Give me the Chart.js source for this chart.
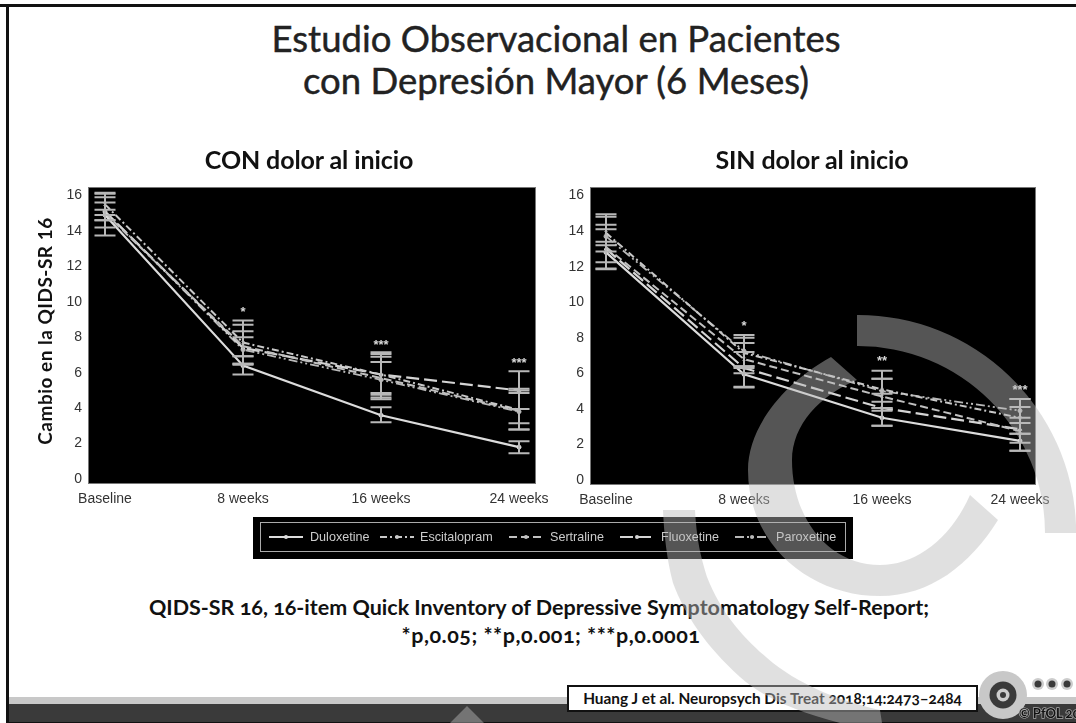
<!DOCTYPE html>
<html lang="es">
<head>
<meta charset="utf-8">
<script src="https://cdn.jsdelivr.net/npm/chart.js@4"></script>
<style>
html,body{margin:0;padding:0;background:#fff;}
#slide{position:relative;width:1076px;height:723px;overflow:hidden;background:#fff;font-family:Lato,sans-serif;color:#111;}
.abs{position:absolute;}
.t{position:absolute;white-space:nowrap;text-align:center;transform:translateX(-50%);}
canvas{position:absolute;filter:blur(.45px);}
#legend{position:absolute;left:253px;top:517px;width:600px;height:42px;background:#000;filter:blur(.4px);}
#legend .in{position:absolute;left:7px;top:5px;width:584px;height:28px;border:1px solid #aaa;}
#legend span{position:absolute;top:17px;font:12.6px "Liberation Sans",sans-serif;color:#ccc;line-height:14px;white-space:nowrap;}
#legend svg{position:absolute;top:0;left:0;}
.big{font-size:36.5px;line-height:42px;font-weight:400;color:#222;-webkit-text-stroke:.45px #222;}
.sub{font-size:25px;line-height:28px;font-weight:700;letter-spacing:-.1px;}
.note{font-size:21.5px;line-height:26px;font-weight:700;font-variant-numeric:oldstyle-nums;}
</style>
</head>
<body>
<div id="slide">
  <div class="abs" style="left:0;top:4px;width:1076px;height:3px;background:#111"></div>
  <div class="abs" style="left:6px;top:4px;width:3px;height:719px;background:#111"></div>
  <div class="abs" style="left:9px;top:697px;width:1067px;height:7px;background:#c8c8c8"></div>
  <div class="abs" style="left:9px;top:704px;width:1067px;height:18px;background:#3a3a3a"></div>
  <div class="abs" style="left:6px;top:722px;width:1070px;height:1px;background:#111"></div>

  <div class="t big" style="left:556px;top:17px">Estudio Observacional en Pacientes</div>
  <div class="t big" style="left:556px;top:59px">con Depresión Mayor (6 Meses)</div>

  <canvas id="con" width="510" height="335" style="left:50px;top:170px;width:510px;height:335px"></canvas>
  <canvas id="sin" width="524" height="336" style="left:552px;top:170px;width:524px;height:336px"></canvas>

  <div class="t sub" style="left:309px;top:145px">CON dolor al inicio</div>
  <div class="t sub" style="left:812px;top:145px">SIN dolor al inicio</div>
  <div class="abs" style="left:44px;top:331px;font-size:19px;letter-spacing:.5px;font-weight:700;white-space:nowrap;transform:translate(-50%,-50%) rotate(-90deg)">Cambio en la QIDS-SR 16</div>

  <div id="legend"><div class="in"></div></div>

  <div class="t note" style="left:539px;top:594px">QIDS-SR 16, 16-item Quick Inventory of Depressive Symptomatology Self-Report;</div>
  <div class="t note" style="left:551px;top:622px;letter-spacing:.5px">*p,0.05; **p,0.001; ***p,0.0001</div>

  <div class="abs" style="left:567px;top:685px;width:407px;height:23px;border:2px solid #111;background:#fff;text-align:center;font-size:15.4px;line-height:23px;font-weight:700;white-space:nowrap;font-variant-numeric:oldstyle-nums">Huang J et al. Neuropsych Dis Treat 2018;14:2473–2484</div>

  <svg class="abs" style="left:0;top:0" width="1076" height="723" viewBox="0 0 1076 723">
    <circle cx="1003" cy="695" r="24" fill="#c8c8c8"/>
    <circle cx="1003" cy="695" r="13.5" fill="#3a3a3a"/>
    <circle cx="1003" cy="695" r="6.5" fill="#ccc"/>
    <circle cx="1003" cy="695" r="3" fill="#3a3a3a"/>
    <g fill="#ccc"><circle cx="1038" cy="684" r="6"/><circle cx="1052" cy="684" r="6"/><circle cx="1067" cy="684" r="6"/></g>
    <g fill="#3a3a3a"><circle cx="1038" cy="684" r="3.5"/><circle cx="1052" cy="684" r="3.5"/><circle cx="1067" cy="684" r="3.5"/></g>
    <text x="1019" y="718" font-family="Lato" font-weight="700" font-size="13" fill="#111" stroke="#aaa" stroke-width="1.4" paint-order="stroke" style="font-variant-numeric:oldstyle-nums">© PfOL 2018</text>
    <g fill="rgb(187,187,187)" fill-opacity=".455">
      <path d="M857 315 A218 218 0 0 1 1076 525 L1076 533 L1045 533 A187 187 0 0 0 857 346 Z"/>
      <path d="M831 357 C780 385 748 430 748 470 C748 545 810 596 880 596 C930 596 970 565 998 520 L970 495 C950 540 915 565 880 565 C830 565 792 520 792 460 C792 425 820 395 857 380 Z"/>
      <path d="M663 510 L695 510 C697 545 702 560 707 577 C722 615 745 640 773 663 C805 688 845 702 880 710 L882 723 L840 723 C790 710 760 695 740 677 C705 645 685 615 673 583 C667 560 664 535 663 510 Z"/>
      <path d="M467 706 L484 723 L450 723 Z"/>
    </g>
  </svg>
</div>

<script>
const categories = ['Baseline', '8 weeks', '16 weeks', '24 weeks'];
const yTicks = [0, 2, 4, 6, 8, 10, 12, 14, 16];
const seriesNames = ['Duloxetine', 'Escitalopram', 'Sertraline', 'Fluoxetine', 'Paroxetine'];

// CON dolor al inicio
const conDuloxetine   = [14.9, 6.4, 3.6, 1.8];
const conDuloxetineLo = [14.6, 5.9, 3.2, 1.45];
const conDuloxetineHi = [15.2, 6.93, 4.05, 2.13];
const conEscitalopram   = [15.5, 7.7, 5.9, 3.9];
const conEscitalopramLo = [14.9, 6.5, 4.85, 2.8];
const conEscitalopramHi = [16.15, 8.95, 7.15, 5.0];
const conSertraline   = [15.0, 7.5, 5.7, 3.85];
const conSertralineLo = [14.2, 6.5, 4.6, 3.15];
const conSertralineHi = [15.9, 8.7, 6.9, 4.85];
const conFluoxetine   = [15.1, 7.4, 5.9, 5.0];
const conFluoxetineLo = [13.75, 6.45, 4.5, 3.95];
const conFluoxetineHi = [16.1, 8.34, 6.6, 6.08];
const conParoxetine   = [15.1, 7.3, 5.6, 3.8];
const conParoxetineLo = [14.6, 6.93, 4.75, 2.8];
const conParoxetineHi = [15.6, 8.0, 7.05, 5.1];
const conStars = ['', '*', '***', '***'];
const conStarY = [null, 9.45, 7.6, 6.6];

// SIN dolor al inicio
const sinDuloxetine   = [12.8, 5.95, 3.5, 2.2];
const sinDuloxetineLo = [11.9, 5.25, 3.05, 1.65];
const sinDuloxetineHi = [13.4, 6.4, 4.05, 2.6];
const sinEscitalopram   = [13.9, 7.15, 5.1, 3.5];
const sinEscitalopramLo = [12.85, 6.3, 4.05, 2.6];
const sinEscitalopramHi = [14.95, 8.15, 6.15, 4.55];
const sinSertraline   = [13.1, 6.8, 4.7, 2.75];
const sinSertralineLo = [12.25, 6.0, 3.9, 2.1];
const sinSertralineHi = [14.1, 7.7, 5.7, 3.5];
const sinFluoxetine   = [13.0, 6.3, 4.05, 2.85];
const sinFluoxetineLo = [11.85, 5.2, 3.05, 1.65];
const sinFluoxetineHi = [14.35, 7.2, 4.85, 4.1];
const sinParoxetine   = [13.7, 7.25, 5.0, 3.9];
const sinParoxetineLo = [13.2, 6.4, 4.4, 3.2];
const sinParoxetineHi = [14.8, 8.0, 5.7, 4.55];
const sinStars = ['', '*', '**', '***'];
const sinStarY = [null, 8.7, 6.7, 5.1];

const seriesStyle = [
  {color:'#dcdcdc', width:2.2, dash:[],          point:'circle'},
  {color:'#c8c8c8', width:2,   dash:[7,3,2,3],   point:'crossRot'},
  {color:'#c0c0c0', width:2,   dash:[8,4],       point:'crossRot'},
  {color:'#d4d4d4', width:2.2, dash:[13,5],      point:'triangle'},
  {color:'#b8b8b8', width:1.8, dash:[9,3,2,3,2,3], point:'circle'}
];

const pts = a => a.map((v, i) => ({x: i, y: v}));
function mk(i, m, lo, hi) {
  const s = seriesStyle[i];
  return {label: seriesNames[i], data: pts(m), low: lo, high: hi,
    borderColor: s.color, borderWidth: s.width, borderDash: s.dash,
    pointStyle: s.point, pointRadius: 2, pointBorderColor: s.color,
    pointBackgroundColor: s.color, pointBorderWidth: 1, tension: 0, fill: false};
}

const panelPlugin = {
  id: 'panel',
  beforeDraw(chart) {
    const a = chart.chartArea, c = chart.ctx;
    c.save();
    c.fillStyle = '#000';
    c.fillRect(a.left, a.top, a.right - a.left, a.bottom - a.top);
    c.strokeStyle = '#777'; c.lineWidth = 1;
    c.strokeRect(a.left + .5, a.top + .5, a.right - a.left - 1, a.bottom - a.top - 1);
    c.restore();
  },
  afterDatasetsDraw(chart, args, opts) {
    const c = chart.ctx, xs = chart.scales.x, ys = chart.scales.y;
    c.save();
    c.strokeStyle = '#b8b8b8'; c.lineWidth = 2; c.setLineDash([]);
    chart.data.datasets.forEach(d => {
      d.data.forEach((p, i) => {
        const x = Math.round(xs.getPixelForValue(p.x));
        const y0 = ys.getPixelForValue(d.low[i]), y1 = ys.getPixelForValue(d.high[i]);
        c.beginPath();
        c.moveTo(x, y0); c.lineTo(x, y1);
        c.moveTo(x - 10.5, y0); c.lineTo(x + 10.5, y0);
        c.moveTo(x - 10.5, y1); c.lineTo(x + 10.5, y1);
        c.stroke();
      });
    });
    c.fillStyle = '#d8d8d8';
    c.font = 'bold 13px "Liberation Sans"';
    c.textAlign = 'center'; c.textBaseline = 'middle';
    opts.stars.forEach((s, i) => {
      if (!s) return;
      c.fillText(s, xs.getPixelForValue(i), ys.getPixelForValue(opts.starY[i]) + 1);
    });
    c.restore();
  }
};

function build(id, datasets, stars, starY, pad, yWidth) {
  new Chart(document.getElementById(id), {
    type: 'line',
    data: {datasets},
    plugins: [panelPlugin],
    options: {
      responsive: false, animation: false,
      layout: {padding: pad},
      plugins: {legend: {display: false}, tooltip: {enabled: false}, title: {display: false},
        panel: {stars, starY}},
      scales: {
        x: {type: 'linear', min: pad.xMin, max: pad.xMax,
          afterBuildTicks: s => { s.ticks = categories.map((_, i) => ({value: i})); },
          afterFit: s => { s.height = 21; },
          grid: {display: false, drawTicks: true, tickLength: 4, tickColor: '#555'},
          border: {display: false},
          ticks: {autoSkip: false, maxRotation: 0, padding: 3, color: '#333',
            font: {family: 'Liberation Sans', size: 14},
            callback: v => categories[v]}},
        y: {min: -0.28, max: 16.48,
          afterBuildTicks: s => { s.ticks = yTicks.map(v => ({value: v})); },
          afterFit: s => { s.width = yWidth; },
          grid: {display: false, drawTicks: true, tickLength: 4, tickColor: '#555'},
          border: {display: false},
          ticks: {padding: 2, color: '#333', font: {family: 'Liberation Sans', size: 14}}}
      }
    }
  });
}

build('con', [
  mk(0, conDuloxetine, conDuloxetineLo, conDuloxetineHi),
  mk(1, conEscitalopram, conEscitalopramLo, conEscitalopramHi),
  mk(2, conSertraline, conSertralineLo, conSertralineHi),
  mk(3, conFluoxetine, conFluoxetineLo, conFluoxetineHi),
  mk(4, conParoxetine, conParoxetineLo, conParoxetineHi)
], conStars, conStarY, {left: 0, top: 17, right: 24, bottom: 0, xMin: -0.123, xMax: 3.123}, 38);

build('sin', [
  mk(0, sinDuloxetine, sinDuloxetineLo, sinDuloxetineHi),
  mk(1, sinEscitalopram, sinEscitalopramLo, sinEscitalopramHi),
  mk(2, sinSertraline, sinSertralineLo, sinSertralineHi),
  mk(3, sinFluoxetine, sinFluoxetineLo, sinFluoxetineHi),
  mk(4, sinParoxetine, sinParoxetineLo, sinParoxetineHi)
], sinStars, sinStarY, {left: 0, top: 17, right: 40, bottom: 0, xMin: -0.116, xMax: 3.116}, 38);

// legend
(function () {
  const box = document.getElementById('legend');
  const sampleX = [16, 127, 256, 367, 482];
  const textX = [57, 167, 297, 408, 523];
  const NS = 'http://www.w3.org/2000/svg';
  const svg = document.createElementNS(NS, 'svg');
  svg.setAttribute('width', 600); svg.setAttribute('height', 42);
  seriesNames.forEach((n, i) => {
    const s = seriesStyle[i];
    const l = document.createElementNS(NS, 'line');
    l.setAttribute('x1', sampleX[i]); l.setAttribute('x2', sampleX[i] + 34);
    l.setAttribute('y1', 20); l.setAttribute('y2', 20);
    l.setAttribute('stroke', s.color); l.setAttribute('stroke-width', s.width);
    if (s.dash.length) l.setAttribute('stroke-dasharray', s.dash.join(','));
    svg.appendChild(l);
    const c = document.createElementNS(NS, 'circle');
    c.setAttribute('cx', sampleX[i] + 17); c.setAttribute('cy', 20); c.setAttribute('r', 2);
    c.setAttribute('fill', s.color);
    svg.appendChild(c);
    const t = document.createElement('span');
    t.textContent = n; t.style.left = textX[i] + 'px'; t.style.top = '13px';
    box.appendChild(t);
  });
  box.appendChild(svg);
})();
</script>
</body>
</html>
